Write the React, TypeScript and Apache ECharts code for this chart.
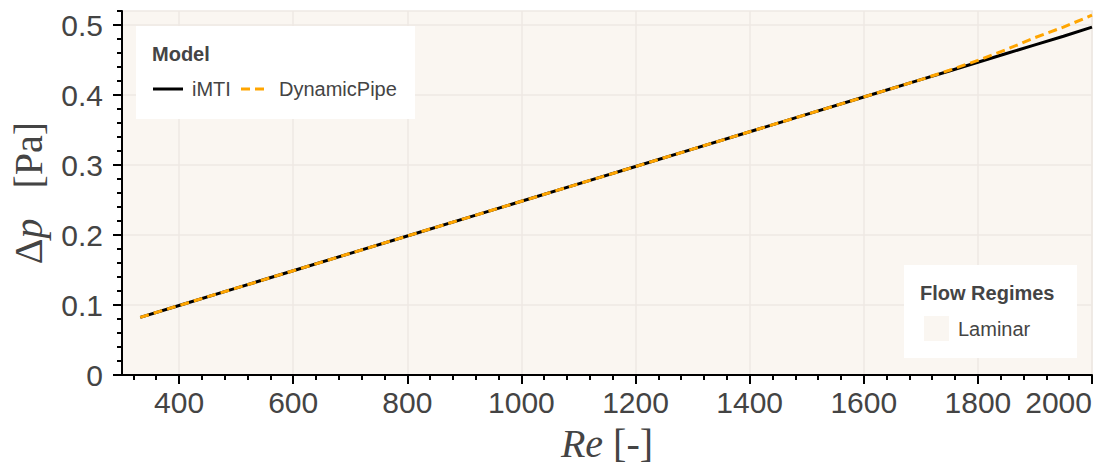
import React, { useEffect, useRef } from 'react';
import * as echarts from 'echarts';

// Reynolds numbers and pressure drop from both models
const reynolds = [332, 400, 500, 600, 700, 800, 900, 1000, 1100, 1200, 1300, 1400, 1500, 1600, 1700, 1750, 1800, 1850, 1900, 1950, 2000];
const dpIMTI = [0.0823, 0.0993, 0.1241, 0.1489, 0.1737, 0.1986, 0.2234, 0.2482, 0.273, 0.2978, 0.3227, 0.3475, 0.3723, 0.3971, 0.4219, 0.4343, 0.4468, 0.4592, 0.4716, 0.484, 0.497];
const dpDynamicPipe = [0.0823, 0.0993, 0.1241, 0.1489, 0.1737, 0.1986, 0.2234, 0.2482, 0.273, 0.2978, 0.3227, 0.3475, 0.3723, 0.3971, 0.4219, 0.4353, 0.4495, 0.465, 0.482, 0.497, 0.514];

// Axis ticks
const xMajorTicks = [400, 600, 800, 1000, 1200, 1400, 1600, 1800, 2000];
const yMajorTicks = [0, 0.1, 0.2, 0.3, 0.4, 0.5];
const xRange = [300, 2000];
const yRange = [0, 0.52];

// Flow regime bands
const regimeNames = ['Laminar'];
const regimeColors = ['#faf6f1'];

const minorTicks = (start: number, end: number, step: number, majors: number[]) => {
  const out: number[] = [];
  for (let i = Math.ceil(start / step); i * step <= end + 1e-9; i++) {
    const v = +(i * step).toFixed(4);
    if (!majors.some((m) => Math.abs(m - v) < 1e-9)) out.push(v);
  }
  return out;
};

const TEXT = '#444';
const SANS = '"Liberation Sans", Arial, sans-serif';
const SERIF = '"Liberation Serif", "DejaVu Serif", serif';

export default function App() {
  const ref = useRef<HTMLDivElement>(null);

  useEffect(() => {
    if (!ref.current) return;
    const chart = echarts.init(ref.current, null, { renderer: 'svg' });

    const xMinor = minorTicks(xRange[0], xRange[1], 40, xMajorTicks);
    const yMinor = minorTicks(yRange[0], yRange[1], 0.02, yMajorTicks);

    const axisLine = { show: true, lineStyle: { color: '#000', width: 2 } };
    const tickStyle = { color: '#000', width: 2 };
    const splitLine = { show: true, lineStyle: { color: '#eee9e3', width: 1.5 } };
    const labelStyle = { fontSize: 30, color: TEXT, fontFamily: SANS, formatter: (v: number) => String(v) };
    const nameRich = {
      i: { fontFamily: SERIF, fontStyle: 'italic' as const, fontSize: 40, color: TEXT },
      n: { fontFamily: SERIF, fontSize: 40, color: TEXT },
      gap: { fontFamily: SERIF, fontSize: 40, color: TEXT, padding: [0, 0, 0, 10] },
      gapWide: { fontFamily: SERIF, fontSize: 40, color: TEXT, padding: [0, 0, 0, 30] },
    };

    chart.setOption({
      animation: false,
      grid: {
        left: 122,
        right: 12,
        top: 11,
        bottom: 93,
        outerBoundsMode: 'none',
        containLabel: false,
        show: true,
        backgroundColor: regimeColors[0],
        borderColor: '#eee9e3',
        borderWidth: 1.5,
      },
      xAxis: [
        {
          type: 'value',
          min: xRange[0],
          max: xRange[1],
          position: 'bottom',
          axisLine,
          axisTick: { show: true, customValues: xMajorTicks, length: 9, lineStyle: tickStyle },
          axisLabel: { customValues: xMajorTicks, margin: 12, alignMaxLabel: 'right', ...labelStyle },
          splitLine,
          name: '{i|Re}{gap|[-]}',
          nameLocation: 'middle',
          nameGap: 48,
          nameTextStyle: { rich: nameRich },
        },
        {
          type: 'value',
          min: xRange[0],
          max: xRange[1],
          position: 'bottom',
          axisLine: { show: false },
          axisTick: { show: true, customValues: xMinor, length: 5, lineStyle: tickStyle },
          axisLabel: { show: false },
          splitLine: { show: false },
        },
      ],
      yAxis: [
        {
          type: 'value',
          min: yRange[0],
          max: yRange[1],
          position: 'left',
          axisLine,
          axisTick: { show: true, customValues: yMajorTicks, length: 9, lineStyle: tickStyle },
          axisLabel: { customValues: yMajorTicks, margin: 19, ...labelStyle },
          splitLine,
          name: '{n|Δ}{i|p}{gapWide|[Pa]}',
          nameLocation: 'middle',
          nameGap: 74,
          nameTextStyle: { rich: nameRich },
        },
        {
          type: 'value',
          min: yRange[0],
          max: yRange[1],
          position: 'left',
          axisLine: { show: false },
          axisTick: { show: true, customValues: yMinor, length: 5, lineStyle: tickStyle },
          axisLabel: { show: false },
          splitLine: { show: false },
        },
      ],
      series: [
        {
          name: 'iMTI',
          type: 'line',
          xAxisIndex: 0,
          yAxisIndex: 0,
          showSymbol: false,
          data: reynolds.map((re, i) => [re, dpIMTI[i]]),
          lineStyle: { color: '#000', width: 3 },
          z: 3,
        },
        {
          name: 'DynamicPipe',
          type: 'line',
          xAxisIndex: 0,
          yAxisIndex: 0,
          showSymbol: false,
          data: reynolds.map((re, i) => [re, dpDynamicPipe[i]]),
          lineStyle: { color: '#ffa500', width: 3, type: [9, 5] },
          z: 4,
        },
      ],
      graphic: [
        // Model legend
        { type: 'rect', shape: { x: 136, y: 26, width: 279, height: 93 }, style: { fill: '#fff' }, z: 10 },
        {
          type: 'text', x: 152, y: 54, z: 11,
          style: { text: 'Model', font: `bold 20px ${SANS}`, fill: TEXT, verticalAlign: 'middle' },
        },
        { type: 'line', shape: { x1: 153, y1: 89, x2: 183, y2: 89 }, style: { stroke: '#000', lineWidth: 3 }, z: 11 },
        {
          type: 'text', x: 192, y: 89, z: 11,
          style: { text: 'iMTI', font: `20px ${SANS}`, fill: TEXT, verticalAlign: 'middle' },
        },
        {
          type: 'line', shape: { x1: 241, y1: 89, x2: 269, y2: 89 }, z: 11,
          style: { stroke: '#ffa500', lineWidth: 3, lineDash: [9, 5] },
        },
        {
          type: 'text', x: 279, y: 89, z: 11,
          style: { text: 'DynamicPipe', font: `20px ${SANS}`, fill: TEXT, verticalAlign: 'middle' },
        },
        // Flow regime legend
        { type: 'rect', shape: { x: 904, y: 265, width: 173, height: 93 }, style: { fill: '#fff' }, z: 10 },
        {
          type: 'text', x: 920, y: 293, z: 11,
          style: { text: 'Flow Regimes', font: `bold 20px ${SANS}`, fill: TEXT, verticalAlign: 'middle' },
        },
        {
          type: 'rect', shape: { x: 924, y: 316, width: 25, height: 25 }, z: 11,
          style: { fill: regimeColors[0] },
        },
        {
          type: 'text', x: 958, y: 329, z: 11,
          style: { text: regimeNames[0], font: `20px ${SANS}`, fill: TEXT, verticalAlign: 'middle' },
        },
      ],
    });

    return () => chart.dispose();
  }, []);

  return <div ref={ref} style={{ position: 'absolute', left: 0, top: 0, width: 1104, height: 468 }} />;
}
